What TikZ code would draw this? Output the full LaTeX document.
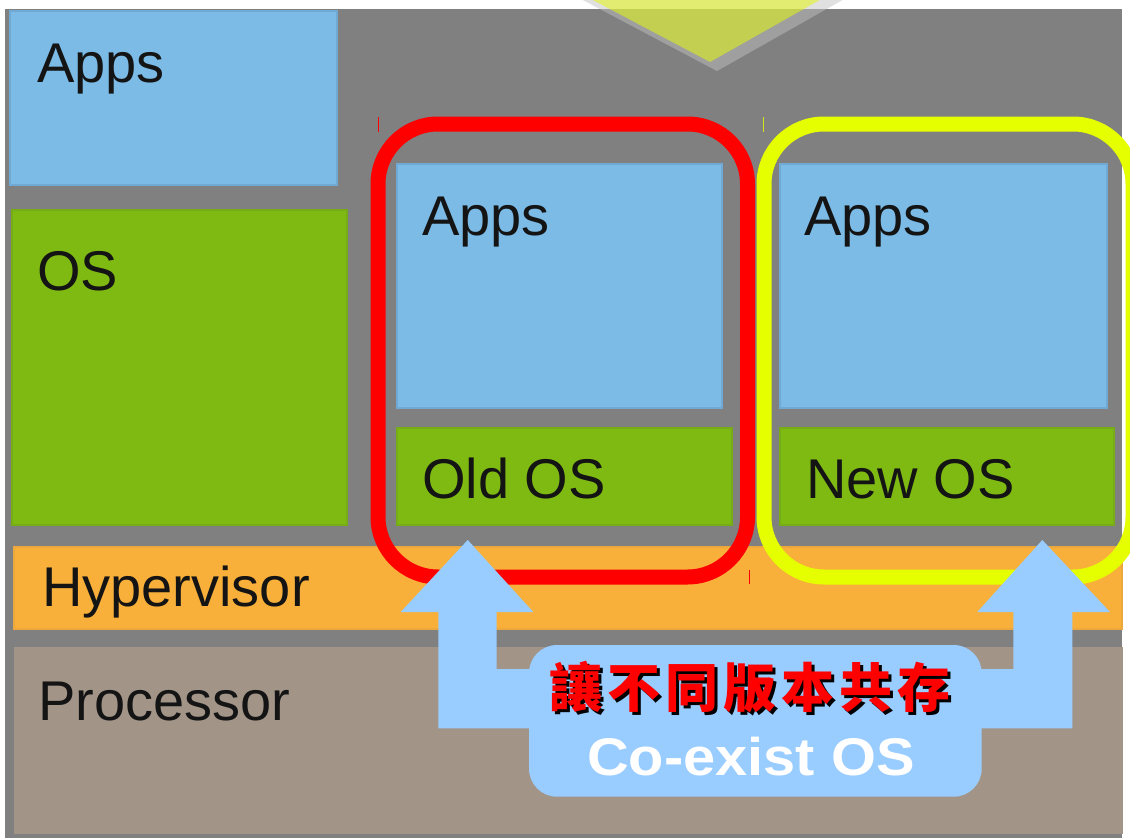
\documentclass[tikz,border=0pt]{standalone}
\usepackage{fontspec}
\setmainfont{Liberation Sans}
\newfontfamily\cjk{Noto Sans CJK TC}
\definecolor{bggray}{RGB}{128,128,128}
\definecolor{appblue}{RGB}{123,187,230}
\definecolor{appedge}{RGB}{112,170,212}
\definecolor{osgreen}{RGB}{127,186,19}
\definecolor{osedge}{RGB}{118,172,22}
\definecolor{hyporange}{RGB}{248,176,58}
\definecolor{hypedge}{RGB}{236,168,60}
\definecolor{procbrown}{RGB}{162,149,136}
\definecolor{ringred}{RGB}{255,0,0}
\definecolor{ringyellow}{RGB}{229,255,0}
\definecolor{arrowblue}{RGB}{153,204,255}
\definecolor{tritop}{RGB}{226,236,112}
\definecolor{trilow}{RGB}{195,207,80}
\definecolor{shadowgray}{RGB}{193,193,193}
\definecolor{txt}{RGB}{20,20,20}
\newcommand{\zhline}{讓\hskip5pt不\hskip5pt同\hskip5pt版\hskip5pt本\hskip5pt共\hskip5pt存}
\begin{document}
\begin{tikzpicture}[x=1pt,y=-1pt,
  layerbox/.style={line width=2pt},
  appbox/.style={layerbox,fill=appblue,draw=appedge},
  osbox/.style={layerbox,fill=osgreen,draw=osedge},
  lbl/.style={anchor=base west,inner sep=0pt,text=txt,font=\fontsize{56}{60}\selectfont},
  ring/.style={line width=15pt,rounded corners=60pt},
  tick/.style={line width=1pt}]
\useasboundingbox (0,0) rectangle (1130,838);
\fill[white] (0,0) rectangle (1130,838);
\fill[bggray] (5,9) rectangle (1122,838);
% triangle with shadow
\fill[shadowgray,opacity=0.49] (562,-11) -- (862,-11) -- (717,71) -- cycle;
\begin{scope}
  \clip (0,-30) rectangle (1130,9);
  \fill[tritop] (555,-20) -- (855,-20) -- (710,62) -- cycle;
\end{scope}
\begin{scope}
  \clip (0,9) rectangle (1130,100);
  \fill[trilow] (555,-20) -- (855,-20) -- (710,62) -- cycle;
\end{scope}
% left stack
\draw[appbox] (10,11) rectangle (337,185);
\node[lbl] (apps0) at (37,82) {Apps};
\draw[osbox] (12,210) rectangle (347,525);
\node[lbl] (os0) at (37,290) {OS};
% hypervisor and processor
\draw[layerbox,fill=hyporange,draw=hypedge] (14,547) rectangle (1122,629);
\node[lbl] (hyp) at (42,606) {Hypervisor};
\draw[layerbox,fill=procbrown,draw=procbrown] (15,648) rectangle (1122,833);
\node[lbl] (proc) at (38,720) {Processor};
% old VM
\draw[appbox] (397,164) rectangle (722,408);
\node[lbl] (apps1) at (422,235) {Apps};
\draw[osbox] (397,428) rectangle (732,525);
\node[lbl] (os1) at (422,498) {Old OS};
% new VM
\draw[appbox] (780,164) rectangle (1107,408);
\node[lbl] (apps2) at (804,235) {Apps};
\draw[osbox] (780,428) rectangle (1114,525);
\node[lbl] (os2) at (806,498) {New OS};
% rings
\draw[ring,ringred] (378,124) rectangle (747.5,577);
\draw[ring,ringyellow] (764,124) rectangle (1133,577);
\draw[tick,ringred] (378,117) -- (378,132);
\draw[tick,ringyellow!80!gray] (763,117) -- (763,132);
\draw[tick,ringred] (749,570) -- (749,584);
% arrows
\fill[arrowblue] (467.7,540) -- (533.3,612) -- (496.7,612) -- (496.7,669)
  -- (1013.3,669) -- (1013.3,612) -- (977.3,612) -- (1042.3,540) -- (1110,612)
  -- (1072.3,612) -- (1072.3,728.3) -- (438.3,728.3) -- (438.3,612) -- (400.7,612) -- cycle;
\fill[arrowblue,rounded corners=28pt] (529,645) rectangle (981.7,796.7);
% texts in the box
\node[anchor=center,inner sep=0pt,font=\cjk\bfseries\fontsize{53}{58}\selectfont] (zh) at (750,689)
  {\makebox[0pt][l]{\kern3pt\raisebox{-3pt}{\color{black}\zhline}}\color{ringred}\zhline};
\node[anchor=base,inner sep=0pt,text=white,font=\bfseries\fontsize{53}{58}\selectfont] (en) at (751,775)
  {\scalebox{1.09}[1]{Co-exist OS}};
\end{tikzpicture}
\end{document}
